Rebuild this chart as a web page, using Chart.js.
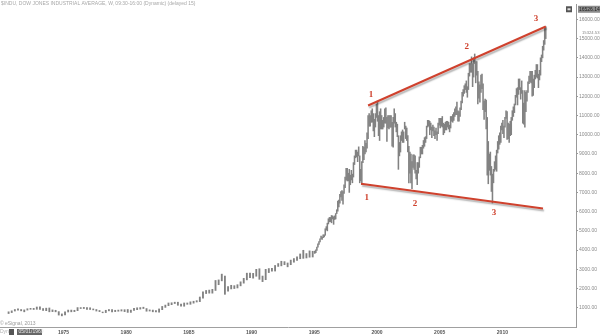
<!DOCTYPE html>
<html>
<head>
<meta charset="utf-8">
<script src="https://cdn.jsdelivr.net/npm/chart.js@4/dist/chart.umd.min.js"></script>
<style>
  html, body { margin: 0; padding: 0; background: #fff; }
  #wrap { position: relative; width: 600px; height: 335px; }
</style>
</head>
<body>
<div id="wrap"><canvas id="djChart"></canvas></div>
<script>
// Dow Jones weekly chart, 1970 - 2013, with the broadening formation drawn on it

// quarterly low / high, Q3 1970 .. Q4 1994
const earlyStart = 1970.5;
const earlyLow = [
    700, 750,
    830, 870, 840, 790,
    880, 920, 910, 920,
    920, 860, 850, 790,
    800, 790, 620, 580,
    630, 780, 790, 800,
    850, 960, 960, 920,
    910, 890, 830, 800,
    740, 750, 840, 790,
    800, 820, 830, 800,
    760, 760, 860, 900,
    930, 960, 820, 830,
    790, 790, 770, 900,
    1020, 1110, 1160, 1220,
    1130, 1080, 1080, 1180,
    1180, 1240, 1300, 1320,
    1500, 1740, 1760, 1760,
    1900, 2200, 2400, 1700,
    1870, 1980, 2000, 2030,
    2140, 2280, 2450, 2560,
    2540, 2640, 2480, 2360,
    2460, 2830, 2900, 2910,
    3150, 3180, 3240, 3130,
    3240, 3370, 3460, 3550,
    3570, 3590, 3630, 3640
];
const earlyHigh = [
    790, 840,
    910, 950, 910, 890,
    950, 970, 970, 1040,
    1050, 960, 980, 990,
    890, 870, 800, 680,
    790, 880, 880, 870,
    1010, 1010, 1020, 1010,
    1000, 940, 910, 860,
    780, 870, 910, 900,
    870, 880, 900, 900,
    910, 880, 970, 1000,
    1010, 1030, 960, 890,
    880, 860, 940, 1070,
    1140, 1250, 1260, 1290,
    1290, 1190, 1250, 1250,
    1310, 1340, 1370, 1560,
    1830, 1900, 1920, 1960,
    2420, 2450, 2750, 2650,
    2100, 2170, 2150, 2200,
    2350, 2530, 2800, 2800,
    2790, 3000, 3030, 2650,
    3000, 3040, 3050, 3200,
    3300, 3420, 3400, 3330,
    3480, 3560, 3650, 3800,
    3990, 3820, 3960, 3940
];

// monthly low / high, Jan 1995 .. Jun 2013
const lateStart = 1995;
const lateLow = [
    3830, 3870, 3980, 4150, 4300, 4420, 4580, 4560, 4640, 4690, 4770, 5050,
    5000, 5360, 5470, 5480, 5420, 5620, 5340, 5590, 5620, 5900, 6020, 6250,
    6440, 6760, 6580, 6390, 6950, 7250, 7650, 7600, 7600, 7000, 7400, 7650,
    7500, 7800, 8450, 8800, 8850, 8600, 8900, 7500, 7600, 7400, 8550, 8700,
    9000, 9100, 9300, 9800, 10450, 10450, 10650, 10650, 10200, 9900, 10400, 10900,
    10700, 9950, 9700, 10300, 10300, 10300, 10400, 10600, 10600, 9650, 10350, 10300,
    10400, 10400, 9400, 9350, 10600, 10400, 10150, 9900, 8200, 8900, 9100, 9700,
    9600, 9600, 10300, 9800, 9700, 9100, 7500, 8000, 7500, 7200, 8300, 8200,
    8000, 7700, 7400, 8000, 8300, 8800, 9000, 9000, 9300, 9400, 9600, 9800,
    10400, 10450, 10000, 10250, 9850, 10200, 9950, 9800, 10000, 9700, 10050, 10500,
    10350, 10450, 10400, 10000, 10100, 10250, 10250, 10400, 10300, 10150, 10350, 10700,
    10650, 10750, 10950, 11050, 11050, 10700, 10700, 10950, 11300, 11650, 12000, 12150,
    12350, 12200, 11950, 12350, 13050, 13250, 13250, 12500, 13000, 13700, 12700, 13100,
    11600, 11900, 11700, 12200, 12400, 11300, 10800, 11200, 10300, 7900, 7450, 8150,
    7900, 7050, 6450, 7500, 8100, 8200, 8100, 9050, 9250, 9500, 9600, 10250,
    10050, 9850, 10400, 10850, 9750, 9800, 9600, 9950, 10000, 10750, 10950, 11150,
    11550, 11950, 11550, 12100, 12350, 11850, 12150, 10600, 10550, 10400, 11200, 11750,
    12200, 12650, 12750, 12700, 12000, 12050, 12450, 12900, 13000, 12950, 12450, 12850,
    13100, 13800, 14000, 14400, 14700, 15000
];
const lateHigh = [
    3950, 4010, 4160, 4330, 4440, 4590, 4730, 4680, 4800, 4800, 5110, 5220,
    5400, 5630, 5700, 5700, 5800, 5780, 5730, 5780, 5900, 6100, 6550, 6600,
    6900, 7050, 7100, 7050, 7400, 7800, 8250, 8250, 8000, 8200, 7900, 8150,
    7950, 8550, 8900, 9200, 9200, 9100, 9370, 8900, 8200, 8600, 9400, 9350,
    9700, 9550, 10100, 11000, 11100, 11000, 11250, 11350, 11100, 10800, 11100, 11600,
    11750, 11000, 11200, 11350, 11000, 10750, 10900, 11350, 11400, 10900, 11000, 11000,
    11000, 11000, 10650, 10900, 11350, 11100, 10650, 10550, 9950, 9600, 9950, 10150,
    10250, 10150, 10650, 10450, 10350, 9950, 9400, 9100, 9000, 8600, 8950, 8950,
    8900, 8150, 8550, 8550, 8850, 9350, 9350, 9450, 9700, 9850, 9900, 10450,
    10750, 10750, 10700, 10600, 10400, 10500, 10400, 10200, 10350, 10150, 10600, 10850,
    10850, 10850, 10950, 10600, 10550, 10650, 10700, 10700, 10650, 10500, 10950, 10950,
    11050, 11150, 11350, 11450, 11700, 11250, 11200, 11400, 11750, 12200, 12350, 12550,
    12650, 12800, 12500, 13200, 13700, 13700, 14050, 13700, 14000, 14200, 13800, 13800,
    13300, 12750, 12600, 13100, 13150, 12650, 11750, 11850, 11800, 10900, 9650, 9000,
    9100, 8350, 7950, 8200, 8600, 8900, 9200, 9650, 9950, 10100, 10450, 10600,
    10750, 10450, 10900, 11250, 11200, 10600, 10550, 10700, 10900, 11250, 11450, 11600,
    12050, 12400, 12450, 12900, 12900, 12450, 12800, 12300, 11650, 12300, 12200, 12300,
    12750, 13050, 13300, 13300, 13300, 12900, 13100, 13350, 13650, 13650, 13150, 13350,
    14000, 14150, 14600, 14900, 15550, 15620
];

// trend lines (year, index value at each end)
const upperLineYears = [1999.29, 2013.46];
const upperLineValues = [11520, 15630];
const lowerLineYears = [1998.73, 2013.24];
const lowerLineValues = [7450, 6165];

// red swing numbers
const markTexts = ['1', '2', '3', '1', '2', '3'];
const markYears = [1999.53, 2007.16, 2012.68, 1999.18, 2003.03, 2009.33];
const markValues = [12090, 14575, 16030, 6730, 6440, 5925];

// axis ticks
const yearTicks = [1975, 1980, 1985, 1990, 1995, 2000, 2005, 2010];
const priceTicks = [1000, 2000, 3000, 4000, 5000, 6000, 7000, 8000,
    9000, 10000, 11000, 12000, 13000, 14000, 15000, 16000];
const lastPrice = 15324.53;
const topPrice = 16526.14;

const earlyBars = earlyLow.map((lo, i) => ({ x: earlyStart + (i + 0.5) / 4, y: [lo, earlyHigh[i]] }));
const lateBars = lateLow.map((lo, i) => ({ x: lateStart + (i + 0.5) / 12, y: [lo, lateHigh[i]] }));

const RED = '#cf412d';
const BAR = '#828282';
const SMALL = '"Liberation Sans", Arial, sans-serif';

// grey drop shadow under the red trend lines
const lineShadow = {
    id: 'lineShadow',
    beforeDatasetDraw(chart, args) {
        if (args.meta.type !== 'line') return;
        const ctx = chart.ctx;
        ctx.save();
        ctx.shadowColor = 'rgba(0,0,0,0.3)';
        ctx.shadowBlur = 1.5;
        ctx.shadowOffsetX = 1;
        ctx.shadowOffsetY = 2;
    },
    afterDatasetDraw(chart, args) {
        if (args.meta.type !== 'line') return;
        chart.ctx.restore();
    }
};

// texts around the plot: header, swing numbers, year labels, price flags, footer
const overlay = {
    id: 'overlay',
    afterDraw(chart) {
        const ctx = chart.ctx;
        const xs = chart.scales.x;
        const ys = chart.scales.y;
        const area = chart.chartArea;

        // swing numbers
        ctx.save();
        ctx.fillStyle = RED;
        ctx.font = 'bold 9px "Liberation Serif", "DejaVu Serif", serif';
        ctx.textAlign = 'center';
        ctx.textBaseline = 'middle';
        markTexts.forEach((t, i) => {
            ctx.fillText(t, xs.getPixelForValue(markYears[i]), ys.getPixelForValue(markValues[i]));
        });

        // year labels under the plot
        ctx.font = 'bold 5px ' + SMALL;
        ctx.fillStyle = '#555';
        yearTicks.forEach((yr) => {
            ctx.fillText(String(yr), xs.getPixelForValue(yr), area.bottom + 5.5);
        });
        ctx.restore();

        ctx.save();
        ctx.textBaseline = 'middle';
        ctx.textAlign = 'left';

        // header
        ctx.font = '5px ' + SMALL;
        ctx.fillStyle = '#a8a8a8';
        ctx.fillText('$INDU, DOW JONES INDUSTRIAL AVERAGE, W, 09:30-16:00 (Dynamic) (delayed 15)', 1, 4);

        // copyright
        ctx.fillStyle = '#9a9a9a';
        ctx.fillText('\u00a9 eSignal, 2013', 0, 323.5);

        // bottom left date box
        ctx.fillStyle = '#b0b0b0';
        ctx.fillText('Dyn', 0, 332);
        ctx.fillStyle = '#555';
        ctx.fillRect(9, 329, 5, 6);
        ctx.fillStyle = '#666';
        ctx.fillRect(17, 329, 25, 6);
        ctx.fillStyle = '#e8e8e8';
        ctx.fillText('05/01/1969', 18.5, 332);

        // price flags on the right axis
        const ax = area.right;
        const yTop = ys.getPixelForValue(topPrice);
        ctx.fillStyle = '#8c8c8c';
        ctx.fillRect(ax + 2, yTop - 3.5, 22, 7);
        ctx.fillStyle = '#222';
        ctx.fillText(topPrice.toFixed(2), ax + 3, yTop);
        ctx.fillStyle = '#555';
        ctx.fillRect(ax - 10, yTop - 3, 6, 6);
        ctx.fillStyle = '#ddd';
        ctx.fillRect(ax - 8.5, yTop - 1, 3, 2);

        ctx.font = '4.2px ' + SMALL;
        ctx.fillStyle = '#888';
        ctx.fillText(lastPrice.toFixed(2), ax + 6, ys.getPixelForValue(lastPrice));
        ctx.restore();
    }
};

const ctx = document.getElementById('djChart').getContext('2d');
const djChart = new Chart(ctx, {
    type: 'bar',
    data: {
        datasets: [
            {
                label: 'Upper trend',
                type: 'line',
                data: upperLineYears.map((x, i) => ({ x: x, y: upperLineValues[i] })),
                borderColor: RED,
                borderWidth: 2,
                pointRadius: 0,
                order: 0
            },
            {
                label: 'Lower trend',
                type: 'line',
                data: lowerLineYears.map((x, i) => ({ x: x, y: lowerLineValues[i] })),
                borderColor: RED,
                borderWidth: 2,
                pointRadius: 0,
                order: 0
            },
            {
                label: 'DJIA 1970-1994',
                data: earlyBars,
                backgroundColor: BAR,
                barThickness: 1.2,
                grouped: false,
                order: 1
            },
            {
                label: 'DJIA 1995-2013',
                data: lateBars,
                backgroundColor: BAR,
                barThickness: 0.9,
                grouped: false,
                order: 1
            }
        ]
    },
    options: {
        responsive: true,
        maintainAspectRatio: false,
        animation: false,
        layout: { padding: 0 },
        plugins: {
            legend: { display: false },
            tooltip: { enabled: false }
        },
        scales: {
            x: {
                type: 'linear',
                min: 1969.94,
                max: 2015.87,
                offset: false,
                grid: { display: false },
                border: { display: true, color: '#a0a0a0', width: 1 },
                afterBuildTicks: (scale) => { scale.ticks = yearTicks.map(v => ({ value: v })); },
                afterFit: (scale) => { scale.height = 8; },
                ticks: { display: false }
            },
            y: {
                position: 'right',
                min: 0,
                max: 16800,
                grid: { drawOnChartArea: false, drawTicks: true, tickLength: 2, color: '#999' },
                border: { display: true, color: '#999', width: 1 },
                afterBuildTicks: (scale) => { scale.ticks = priceTicks.map(v => ({ value: v })); },
                afterFit: (scale) => { scale.width = 24; },
                ticks: {
                    padding: 1,
                    color: '#8a8a8a',
                    font: { family: SMALL, size: 5 },
                    callback: (v) => Number(v).toFixed(2)
                }
            }
        }
    },
    plugins: [lineShadow, overlay]
});
</script>
</body>
</html>
